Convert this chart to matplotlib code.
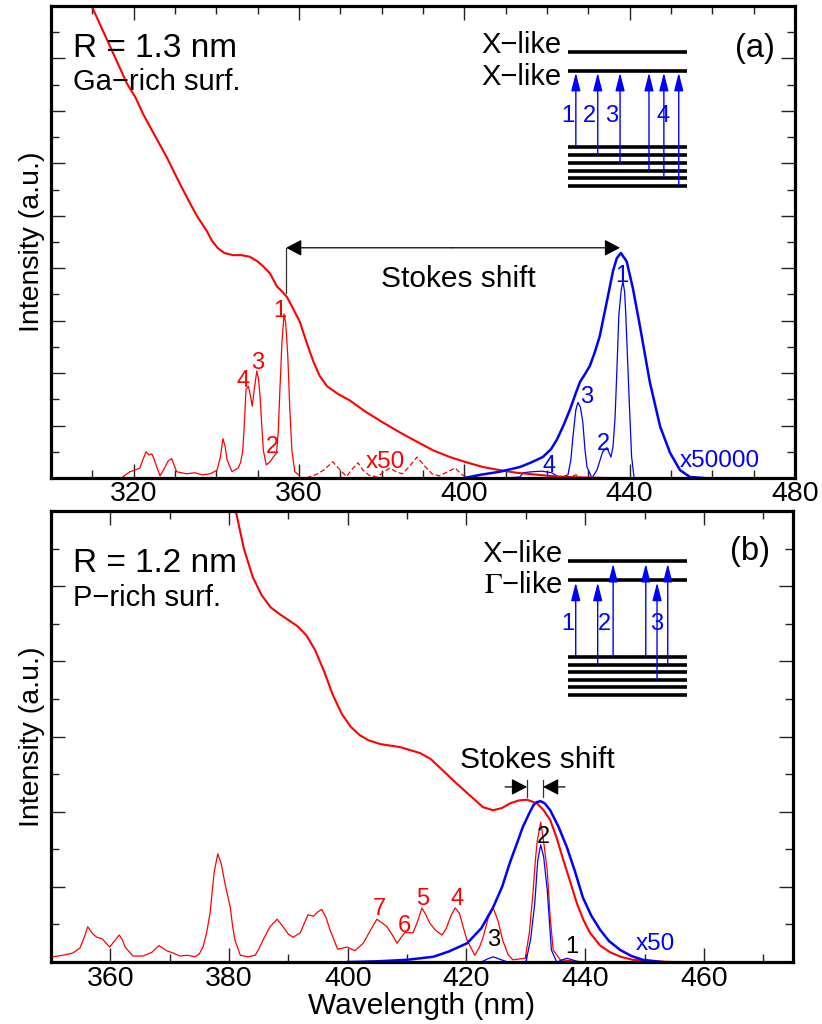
import matplotlib
matplotlib.use("Agg")
import matplotlib.pyplot as plt
from matplotlib.ticker import MultipleLocator, NullFormatter

plt.rcParams['font.family'] = ['Liberation Sans', 'DejaVu Sans']
plt.rcParams['mathtext.fontset'] = 'stix'

RED = '#ff0000'
BLUE = '#0000ff'

# ---------------- Panel (a) data ----------------
abs_a_x = [308.5, 309.4, 311, 314.3, 318.4, 320.5, 322.3, 325, 328.0, 330.5, 332.9, 335.3, 337.7, 339,
           340.4, 342, 344.0, 346, 348.1, 350, 351.3, 353, 354.7, 356.0, 357.1, 358.6, 360.2, 362,
           363.5, 365, 366.8, 369.5, 372.3, 376, 380.3, 384.4, 388.6, 392.4, 396.5, 400.5, 404.5,
           408.6, 412.7, 416.6, 420.7, 424.7, 428.7, 435]
abs_a_y = [9.3, 9.08, 8.8, 8.23, 7.52, 7.25, 6.94, 6.55, 6.12, 5.72, 5.35, 5.0, 4.71, 4.52,
           4.38, 4.29, 4.25, 4.25, 4.22, 4.13, 4.04, 3.9, 3.65, 3.55, 3.45, 3.23, 2.98, 2.55,
           2.22, 1.95, 1.75, 1.6, 1.48, 1.27, 1.06, 0.87, 0.69, 0.53, 0.40, 0.30, 0.21,
           0.15, 0.10, 0.07, 0.04, 0.02, 0.01, 0.0]

lines_a_x = [317, 319.1, 320.3, 321.5, 322.3, 323.0, 323.7, 324.4, 325.0, 325.6, 326.4, 327.6, 328.4,
             329.2, 330.4, 331.6, 332.8, 334.8, 336.5, 338.5, 340.2, 341.0, 341.6, 342.1, 342.6,
             343.8, 345.3, 345.9, 346.4, 346.8, 347.2, 347.8, 348.3, 348.7, 349.3, 349.8, 350.2,
             350.6, 351.0, 351.4, 352.1, 353.0, 353.8, 354.6, 355.0, 355.4, 355.9, 356.4, 356.8,
             357.3, 357.8, 358.3, 359.0, 360.2]
lines_a_y = [0.0, 0.12, 0.15, 0.19, 0.36, 0.50, 0.44, 0.46, 0.35, 0.21, 0.04, 0.21, 0.33,
             0.37, 0.12, 0.10, 0.08, 0.10, 0.06, 0.08, 0.15, 0.40, 0.75, 0.62, 0.35,
             0.12, 0.19, 0.30, 0.52, 1.05, 1.69, 1.75, 1.55, 1.37, 1.75, 2.04, 1.90,
             1.56, 1.0, 0.52, 0.25, 0.31, 0.40, 0.48, 0.9, 1.69, 2.6, 3.13, 2.95,
             2.33, 1.3, 0.52, 0.12, 0.04]

dash_a_x = [360, 362, 364, 366, 368.2, 370, 371.5, 373, 374.3, 375.5, 377, 379, 380.5, 382, 383.5,
            385, 386.5, 388.6, 390.5, 392.2, 394, 396, 397.8, 399.5, 401, 405, 410, 425, 427,
            428.5, 440]
dash_a_y = [0.0, 0.01, 0.06, 0.15, 0.31, 0.15, 0.03, 0.18, 0.29, 0.15, 0.05, 0.02, 0.12, 0.19, 0.12,
            0.08, 0.20, 0.40, 0.22, 0.08, 0.04, 0.12, 0.19, 0.06, 0.02, 0.01, 0.0, 0.0, 0.06,
            0.0, 0.0]

em_a_x = [400, 403.8, 408.6, 413.5, 416, 419.0, 421, 422.4, 424, 425.6, 427, 428.0, 429.2, 430.4,
          431.6, 432.8, 434.8, 436.0, 436.9, 437.9, 439.3, 440.8, 442.5, 444.9, 447.4, 449.8,
          452.2, 454.6, 458]
em_a_y = [0.0, 0.06, 0.12, 0.21, 0.29, 0.40, 0.55, 0.73, 1.0, 1.31, 1.62, 1.83, 1.98, 2.14,
          2.40, 2.71, 3.48, 3.95, 4.19, 4.29, 4.13, 3.62, 2.90, 1.83, 0.98, 0.48,
          0.15, 0.02, 0.0]

emln_a_x = [410, 413.5, 414.2, 416.5, 418.8, 421.2, 423.2, 425.1, 425.8, 426.3, 427.0, 427.5, 428.1,
            428.7, 429.2, 429.7, 430.9, 432.1, 433.5, 434.5, 435.5, 436.0, 436.5, 437.0, 437.4,
            438.0, 438.4, 438.8, 439.1, 439.5, 439.9, 440.5, 441.1, 443]
emln_a_y = [0.0, 0.02, 0.10, 0.12, 0.13, 0.10, 0.0, 0.06, 0.35, 0.79, 1.30, 1.44, 1.35,
            1.06, 0.55, 0.21, 0.0, 0.15, 0.50, 0.58, 0.40, 0.6, 1.17, 2.2, 3.10,
            3.6, 3.75, 3.55, 3.10, 2.3, 1.5, 0.40, 0.0, 0.0]

# ---------------- Panel (b) data ----------------
abs_b_x = [380.2, 381.0, 382.5, 384.0, 385.5, 387.0, 388.5, 390.0, 391.5, 393.0, 394.5, 396.0,
           397.5, 399.0, 400.5, 402.0, 403.5, 405.5, 408.8, 412.2, 414, 416, 418, 420.1, 422.8,
           424.5, 426, 427.3, 428.8, 430.2, 431.9, 433.0, 434.1, 435.2, 436.3, 437.5, 438.6,
           439.7, 440.8, 442.5, 444.2, 446, 448.0, 451, 455]
abs_b_y = [6.3, 6.05, 5.5, 5.12, 4.88, 4.72, 4.63, 4.55, 4.47, 4.35, 4.15, 3.87,
           3.55, 3.30, 3.13, 3.02, 2.95, 2.90, 2.86, 2.78, 2.70, 2.55, 2.40, 2.25, 2.06,
           2.02, 2.05, 2.11, 2.15, 2.16, 2.11, 2.02, 1.89, 1.65, 1.36, 1.06, 0.78,
           0.56, 0.39, 0.22, 0.13, 0.07, 0.03, 0.01, 0.0]

em_b_x = [400, 405, 410, 414.4, 417, 420.1, 422.5, 424.5, 426, 427.3, 428.5, 429.5, 430.7, 431.3,
          431.9, 432.5, 433.2, 434.1, 435.5, 436.9, 438.3, 439.6, 441, 442.5, 444, 445.9, 447.8,
          449.7, 453]
em_b_y = [0.0, 0.01, 0.03, 0.07, 0.14, 0.25, 0.45, 0.73, 1.0, 1.32, 1.58, 1.80, 2.0, 2.09,
          2.13, 2.14, 2.11, 2.02, 1.80, 1.53, 1.20, 0.86, 0.62, 0.43, 0.28, 0.16, 0.08,
          0.03, 0.0]

lines_b_x = [350, 350.3, 352.0, 353.7, 354.9, 355.6, 356.2, 357.0, 357.7, 358.6, 359.9, 360.7, 361.5,
             362.0, 362.5, 363.8, 365.5, 367.0, 368.2, 369.5, 370.6, 371.7, 373.0, 374.3, 375.0,
             375.6, 376.2, 376.8, 377.5, 378.1, 378.7, 379.3, 380.2, 380.6, 381.0, 381.9, 383.2,
             384.4, 385.0, 385.7, 386.9, 388.1, 389.1, 390.0, 390.8, 392.0, 393.3, 394.2, 395.0,
             395.6, 396.3, 397.0, 398.3, 399.9, 401.2, 402.6, 403.8, 404.9, 405.8, 406.6, 407.5,
             408.3, 409.0, 409.6, 411.0, 411.8, 412.5, 413.2, 413.8, 414.8, 415.9, 416.6, 417.4,
             418.1, 418.8, 419.5, 420.1, 421.4, 422.2, 422.8, 423.7, 424.5, 425.3, 426.1, 427.0,
             427.8, 429.9, 430.6, 431.2, 431.6, 431.9, 432.5, 433.0, 433.6, 434.1, 434.6, 435.8, 440]
lines_b_y = [0.05, 0.07, 0.09, 0.12, 0.19, 0.33, 0.47, 0.38, 0.33, 0.31, 0.20, 0.28, 0.36,
             0.30, 0.20, 0.08, 0.08, 0.13, 0.22, 0.15, 0.12, 0.08, 0.09, 0.07, 0.11,
             0.20, 0.38, 0.65, 1.20, 1.44, 1.30, 1.05, 0.73, 0.48, 0.29, 0.09, 0.07,
             0.09, 0.17, 0.29, 0.47, 0.57, 0.47, 0.37, 0.33, 0.39, 0.63, 0.61, 0.67,
             0.70, 0.6, 0.43, 0.17, 0.20, 0.15, 0.25, 0.42, 0.57, 0.52, 0.47, 0.36,
             0.25, 0.33, 0.39, 0.39, 0.55, 0.72, 0.62, 0.52, 0.42, 0.36, 0.45, 0.62,
             0.72, 0.65, 0.45, 0.29, 0.09, 0.2, 0.33, 0.60, 0.72, 0.55, 0.29, 0.1,
             0.03, 0.05, 0.40, 0.92, 1.35, 1.60, 1.86, 1.60, 1.22, 0.6, 0.16, 0.03, 0.0]

emln_b_x = [415, 422.5, 423.5, 424.5, 425.5, 427, 430, 430.8, 431.5, 432.0, 432.5, 433.0, 433.6,
            434.3, 435.2, 436.2, 436.9, 437.8, 439, 445]
emln_b_y = [0.0, 0.0, 0.04, 0.07, 0.04, 0.0, 0.0, 0.30, 0.78, 1.35, 1.56, 1.40, 0.96,
            0.16, 0.0, 0.03, 0.05, 0.03, 0.0, 0.0]

# tick labels
xticks_a = [320, 360, 400, 440, 480]
xticks_b = [360, 380, 400, 420, 440, 460]

# schematic levels
levels_a_upper = [8.13, 7.77]
levels_a_lower = [6.32, 6.16, 6.01, 5.86, 5.73, 5.57]
levels_b_upper = [5.33, 5.08]
levels_b_lower = [4.06, 3.95, 3.86, 3.75, 3.66, 3.55]

fig = plt.figure(figsize=(8.22, 10.24), dpi=100)
ax1 = fig.add_axes([0.062, 0.5332, 0.905, 0.4609])
ax2 = fig.add_axes([0.062, 0.0605, 0.9027, 0.4404])

FS_TICK = 20.5
FS_LAB = 20.5
FS_R = 24
FS_SUB = 21
FS_LEV = 21
FS_PANEL = 23.5
FS_STOKES = 21.5
FS_NUM = 17
FS_SCALE = 17.5


def style(ax, xlim, ylim, xmaj, xmin):
    ax.set_xlim(*xlim)
    ax.set_ylim(*ylim)
    ax.xaxis.set_major_locator(MultipleLocator(xmaj))
    ax.xaxis.set_minor_locator(MultipleLocator(xmin))
    ax.yaxis.set_major_locator(MultipleLocator(1))
    ax.yaxis.set_minor_locator(MultipleLocator(0.5))
    ax.yaxis.set_major_formatter(NullFormatter())
    ax.tick_params(which='both', direction='in', top=True, right=True, width=1.0, color='#222222',
                   labelsize=FS_TICK, pad=2.5)
    ax.tick_params(which='major', length=10)
    ax.tick_params(which='minor', length=6)
    for s in ax.spines.values():
        s.set_linewidth(2.3)
    ax.set_ylabel('Intensity (a.u.)', fontsize=FS_LAB, labelpad=2)


style(ax1, (300, 480), (0, 9), 40, 10)
style(ax2, (350, 475), (0, 6), 20, 10)

BLUE_ARROW = dict(arrowstyle='-|>,head_length=1.1,head_width=0.28', color=BLUE,
                  lw=1.0, shrinkA=0, shrinkB=0, mutation_scale=10)
BLACK_ARROW = '-|>,head_length=0.95,head_width=0.5'

# ---------- panel (a) ----------
ax1.plot(lines_a_x, lines_a_y, color=RED, lw=0.9)
ax1.plot(dash_a_x, dash_a_y, color=RED, lw=0.9, ls=(0, (4, 2)))
ax1.plot(emln_a_x, emln_a_y, color=BLUE, lw=0.9)
ax1.plot(abs_a_x, abs_a_y, color=RED, lw=1.5)
ax1.plot(em_a_x, em_a_y, color=BLUE, lw=1.8)

ax1.text(305.3, 8.02, 'R = 1.3 nm', fontsize=FS_R, va='baseline')
ax1.text(305.3, 7.39, 'Ga\u2212rich surf.', fontsize=FS_SUB, va='baseline')
ax1.text(475.2, 8.02, '(a)', fontsize=FS_PANEL, ha='right', va='baseline')

ax1.text(423.6, 8.11, 'X\u2212like', fontsize=FS_LEV, ha='right', va='baseline')
ax1.text(423.6, 7.50, 'X\u2212like', fontsize=FS_LEV, ha='right', va='baseline')
for lv in levels_a_upper + levels_a_lower:
    ax1.plot([425.1, 453.9], [lv, lv], color='black', lw=2.6, solid_capstyle='butt')
arrows_a_x = [427.0, 432.3, 437.7, 444.7, 448.3, 451.9]
arrows_a_from = [0, 1, 2, 3, 4, 5]
for xa, li in zip(arrows_a_x, arrows_a_from):
    ax1.annotate('', xy=(xa, levels_a_upper[1] - 0.04), xytext=(xa, levels_a_lower[li]),
                 arrowprops=BLUE_ARROW)
for t, xa in zip(['1', '2', '3', '4'], [425.1, 430.4, 435.7, 448.1]):
    ax1.text(xa, 6.79, t, color=BLUE, fontsize=FS_NUM, ha='center', va='baseline')

# Stokes shift (a)
for x0, x1 in [(397.0, 437.7), (397.0, 356.9)]:
    ax1.annotate('', xy=(x1, 4.39), xytext=(x0, 4.39),
                 arrowprops=dict(arrowstyle=BLACK_ARROW, color='black', lw=0.9,
                                 shrinkA=0, shrinkB=0, mutation_scale=10))
ax1.plot([356.9, 356.9], [4.39, 3.53], color='#333333', lw=0.9)
ax1.text(398.7, 3.65, 'Stokes shift', fontsize=FS_STOKES, ha='center', va='baseline')

for t, xa, ya in [('1', 355.4, 3.07), ('3', 350.1, 2.08), ('4', 346.5, 1.74), ('2', 353.5, 0.48)]:
    ax1.text(xa, ya, t, color=RED, fontsize=FS_NUM, ha='center', va='baseline')
ax1.text(380.8, 0.19, 'x50', color=RED, fontsize=FS_SCALE, ha='center', va='baseline')
for t, xa, ya in [('1', 438.2, 3.74), ('3', 429.7, 1.43), ('2', 433.6, 0.53), ('4', 420.5, 0.11)]:
    ax1.text(xa, ya, t, color=BLUE, fontsize=FS_NUM, ha='center', va='baseline')
ax1.text(461.9, 0.21, 'x50000', color=BLUE, fontsize=FS_SCALE, ha='center', va='baseline')

ax1.set_xticks(xticks_a)
ax1.set_xticklabels([str(v) for v in xticks_a])

# ---------- panel (b) ----------
ax2.plot(lines_b_x, lines_b_y, color=RED, lw=0.9)
ax2.plot(emln_b_x, emln_b_y, color=BLUE, lw=0.9)
ax2.plot(abs_b_x, abs_b_y, color=RED, lw=1.5)
ax2.plot(em_b_x, em_b_y, color=BLUE, lw=1.8)

ax2.text(353.7, 5.19, 'R = 1.2 nm', fontsize=FS_R, va='baseline')
ax2.text(353.7, 4.74, 'P\u2212rich surf.', fontsize=FS_SUB, va='baseline')
ax2.text(471.1, 5.35, '(b)', fontsize=FS_PANEL, ha='right', va='baseline')

ax2.text(436.1, 5.32, 'X\u2212like', fontsize=FS_LEV, ha='right', va='baseline')
ax2.text(436.1, 4.91, r'$\Gamma$' + '\u2212like', fontsize=FS_LEV, ha='right', va='baseline')
for lv in levels_b_upper + levels_b_lower:
    ax2.plot([437.1, 457.1], [lv, lv], color='black', lw=2.6, solid_capstyle='butt')
arrows_b_x = [438.4, 442.1, 444.7, 450.2, 452.1, 453.9]
arrows_b_from = [0, 1, 0, 0, 3, 1]
arrows_b_to = [1, 1, 0, 0, 1, 0]
for xa, li, ui in zip(arrows_b_x, arrows_b_from, arrows_b_to):
    ax2.annotate('', xy=(xa, levels_b_upper[ui] - 0.03), xytext=(xa, levels_b_lower[li]),
                 arrowprops=BLUE_ARROW)
for t, xa in zip(['1', '2', '3'], [437.1, 443.3, 452.1]):
    ax2.text(xa, 4.42, t, color=BLUE, fontsize=FS_NUM, ha='center', va='baseline')

# Stokes shift (b)
ax2.text(431.9, 2.58, 'Stokes shift', fontsize=FS_STOKES, ha='center', va='baseline')
for x0, x1 in [(426.5, 430.2), (436.6, 432.9)]:
    ax2.annotate('', xy=(x1, 2.33), xytext=(x0, 2.33),
                 arrowprops=dict(arrowstyle=BLACK_ARROW, color='black', lw=0.9,
                                 shrinkA=0, shrinkB=0, mutation_scale=10))
    ax2.plot([x1, x1], [2.42, 2.19], color='#333333', lw=0.9)

for t, xa, ya, c in [('7', 405.4, 0.63, RED), ('6', 409.6, 0.40, RED), ('5', 412.7, 0.76, RED),
                     ('4', 418.4, 0.76, RED), ('3', 424.5, 0.21, 'black'), ('2', 432.9, 1.58, 'black'),
                     ('1', 437.8, 0.12, 'black')]:
    ax2.text(xa, ya, t, color=c, fontsize=FS_NUM, ha='center', va='baseline')
ax2.text(451.8, 0.16, 'x50', color=BLUE, fontsize=FS_SCALE, ha='center', va='baseline')

ax2.set_xticks(xticks_b)
ax2.set_xticklabels([str(v) for v in xticks_b])
ax2.set_xlabel('Wavelength (nm)', fontsize=21.5)
ax2.xaxis.set_label_coords(0.5, -0.066)

fig.savefig('out.png', dpi=100)
